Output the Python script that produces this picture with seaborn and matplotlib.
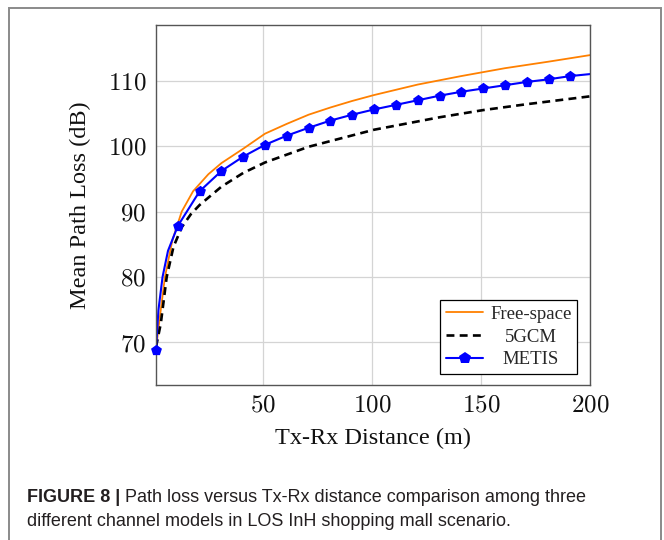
import numpy as np
import pandas as pd
import matplotlib
matplotlib.use('Agg')
import matplotlib.pyplot as plt
from matplotlib.lines import Line2D
from matplotlib.patches import Rectangle
import seaborn as sns

# Curvas (distancia en m, pérdida en dB)
free_d = [1, 2.4, 5.1, 8.5, 12.8, 18, 25, 31, 41, 51, 61, 71, 81, 91, 101, 121, 141, 161, 181, 200]
free_pl = [69.0, 72.9, 80.0, 85.6, 90.0, 93.1, 95.7, 97.4, 99.6, 101.9, 103.4, 104.8, 105.9, 106.9,
           107.8, 109.4, 110.7, 111.9, 112.9, 113.9]

gcm_d = [1, 3.2, 5.9, 9, 12.8, 17, 21, 31, 41, 51, 71, 101, 131, 151, 171, 200]
gcm_pl = [69.3, 72.9, 80.0, 84.6, 87.6, 89.6, 91.0, 93.8, 95.9, 97.5, 99.9, 102.5, 104.4, 105.5,
          106.4, 107.6]

metis_d = [1, 2.1, 4, 6.5, 11, 21, 31, 41, 51, 61, 71, 81, 91, 101, 111, 121, 131, 141, 151,
           161, 171, 181, 191, 200]
metis_pl = [68.9, 74.9, 80.0, 84.0, 87.8, 93.1, 96.2, 98.4, 100.2, 101.6, 102.8, 103.9, 104.8,
            105.6, 106.3, 107.0, 107.7, 108.3, 108.8, 109.3, 109.8, 110.2, 110.7, 111.0]
# Puntos con marcador (cada 10 m)
metis_marks = [1, 11, 21, 31, 41, 51, 61, 71, 81, 91, 101, 111, 121, 131, 141, 151, 161, 171, 181, 191]

x_ticks = [50, 100, 150, 200]
y_ticks = [70, 80, 90, 100, 110]
names = ['Free-space', '5GCM', 'METIS']
colors = ['#ff8000', 'black', '#0000ff']

df_free = pd.DataFrame({'d': free_d, 'pl': free_pl})
df_gcm = pd.DataFrame({'d': gcm_d, 'pl': gcm_pl})
df_metis = pd.DataFrame({'d': metis_d, 'pl': metis_pl})
df_marks = df_metis[df_metis['d'].isin(metis_marks)]

sns.set_style('whitegrid', {'grid.color': '#d4d4d4', 'axes.edgecolor': '#555555'})
plt.rcParams['axes.formatter.use_mathtext'] = True

fig = plt.figure(figsize=(6.64, 5.4), dpi=100)
ax = fig.add_axes([156 / 664, 1 - 385 / 540, 434 / 664, 360 / 540])

sns.lineplot(data=df_free, x='d', y='pl', color=colors[0], linewidth=1.3, ax=ax)
sns.lineplot(data=df_gcm, x='d', y='pl', color=colors[1], linewidth=1.9,
             linestyle=(0, (3, 2)), ax=ax)
sns.lineplot(data=df_metis, x='d', y='pl', color=colors[2], linewidth=1.5, ax=ax)
sns.scatterplot(data=df_marks, x='d', y='pl', color=colors[2], marker='p', s=68,
                linewidth=0, ax=ax, zorder=5, clip_on=False)

ax.set_xlim(1, 200)
ax.set_ylim(63.5, 118.5)
ax.set_xticks(x_ticks)
ax.set_yticks(y_ticks)
ax.tick_params(length=0, pad=7, labelsize=18, labelcolor='#111111')
for lab in ax.get_xticklabels() + ax.get_yticklabels():
    lab.set_fontfamily('cmr10')
ax.grid(True, linewidth=0.9)
for s in ax.spines.values():
    s.set_linewidth(1.0)

ax.set_xlabel('Tx-Rx Distance (m)', family='Liberation Serif', fontsize=17.5,
              labelpad=8, color='#111111')
ax.set_ylabel('Mean Path Loss (dB)', family='Liberation Serif', fontsize=17.5,
              labelpad=12, color='#111111')

# Leyenda
handles = [
    Line2D([], [], color=colors[0], linewidth=1.3),
    Line2D([], [], color=colors[1], linewidth=1.9, linestyle=(0, (3, 2))),
    Line2D([], [], color=colors[2], linewidth=1.5, marker='p', markersize=9,
           markeredgewidth=0),
]
leg = ax.legend(handles, names, loc='lower right',
                bbox_to_anchor=(577 / 664, 1 - 374 / 540), bbox_transform=fig.transFigure,
                borderaxespad=0, prop={'family': 'Liberation Serif', 'size': 13.5},
                frameon=True, fancybox=False, edgecolor='black', framealpha=1,
                borderpad=0.3, handletextpad=0.35, labelspacing=0.3, handlelength=2.0)
leg.get_frame().set_linewidth(0.9)

# Centrar los textos de la leyenda
fig.canvas.draw()
r = fig.canvas.get_renderer()
widths = [t.get_window_extent(r).width for t in leg.get_texts()]
wmax = max(widths)
items = [b for col in leg._legend_handle_box.get_children() for b in col.get_children()]
for box, w in zip(items, widths):
    box.sep = box.sep + (wmax - w) / 2 * 72 / fig.dpi

# Marco exterior
fig.patches.append(Rectangle((9 / 664, -0.1), 652 / 664, (532 / 540) + 0.1,
                             transform=fig.transFigure, fill=False,
                             edgecolor='#8a8a8a', linewidth=1.4))

# Pie de figura
cap_font = ['Liberation Sans', 'DejaVu Sans']
t1 = fig.text(27 / 664, 1 - 502 / 540, 'FIGURE 8 |', family=cap_font, fontsize=13,
              fontweight='bold', color='#231f20', ha='left', va='baseline')
ax.annotate(' Path loss versus Tx-Rx distance comparison among three',
            xy=(1, 0), xycoords=t1, ha='left', va='bottom', family=cap_font,
            fontsize=13, color='#231f20', annotation_clip=False)
fig.text(27 / 664, 1 - 526 / 540,
         'different channel models in LOS InH shopping mall scenario.',
         family=cap_font, fontsize=13, color='#231f20', ha='left', va='baseline')

fig.savefig('out.png', dpi=100)
